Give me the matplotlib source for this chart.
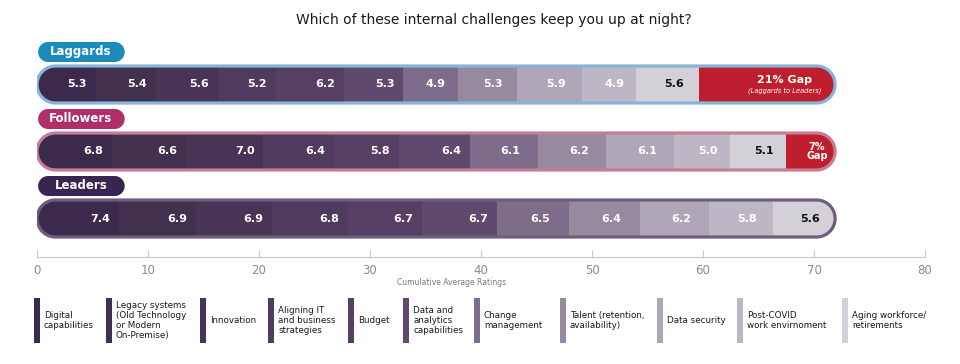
import numpy as np
import matplotlib
matplotlib.use("Agg")
import matplotlib.pyplot as plt
from matplotlib.path import Path
from matplotlib.patches import PathPatch, Rectangle

plt.rcParams['font.family'] = ['DejaVu Sans']

title = "Which of these internal challenges keep you up at night?"

groups = ["Laggards", "Followers", "Leaders"]
laggards = [5.3, 5.4, 5.6, 5.2, 6.2, 5.3, 4.9, 5.3, 5.9, 4.9, 5.6]
followers = [6.8, 6.6, 7.0, 6.4, 5.8, 6.4, 6.1, 6.2, 6.1, 5.0, 5.1]
leaders = [7.4, 6.9, 6.9, 6.8, 6.7, 6.7, 6.5, 6.4, 6.2, 5.8, 5.6]
gap_labels = ["21% Gap", "7%\nGap", None]
gap_notes = ["(Laggards to Leaders)", None, None]

challenges = ["Digital\ncapabilities",
              "Legacy systems\n(Old Technology\nor Modern\nOn-Premise)",
              "Innovation",
              "Aligning IT\nand business\nstrategies",
              "Budget",
              "Data and\nanalytics\ncapabilities",
              "Change\nmanagement",
              "Talent (retention,\navailability)",
              "Data security",
              "Post-COVID\nwork envirnoment",
              "Aging workforce/\nretirements"]

xticks = [0, 10, 20, 30, 40, 50, 60, 70, 80]
xlabel = "Cumulative Average Ratings"

# styling
seg_colors = ["#3c2a4d", "#42304f", "#483555", "#4f3b5d", "#563f63", "#5f4a6e",
              "#7d6d8b", "#978a9f", "#afa6b7", "#bdb7c5", "#d3d0d8"]
gap_color = "#be1e2d"
pill_colors = ["#1a8bbb", "#b02f68", "#3a2450"]
rim_colors = ["#86b5d8", "#c97d95", "#6f5d80"]

W, H = 960, 364
ax_left, ax_right = 37, 925
ax_top, ax_bottom = 35, 257
px_per_unit = (ax_right - ax_left) / 80.0

row_y = [84.5, 151.5, 218.5]
bar_h = 37
pill_off = 32.5
pill_h = 20
legend_x = [34, 106, 200, 268, 348, 403, 474, 560, 657, 737, 842]


def stadium(x0, x1, yc, h):
    ry = h / 2.0
    rx = ry / px_per_unit
    t = np.linspace(-np.pi / 2, np.pi / 2, 40)
    right = np.column_stack([x1 - rx + rx * np.cos(t), yc + ry * np.sin(t)])
    t2 = np.linspace(np.pi / 2, 3 * np.pi / 2, 40)
    left = np.column_stack([x0 + rx + rx * np.cos(t2), yc + ry * np.sin(t2)])
    verts = np.vstack([right, left, right[:1]])
    return Path(verts, closed=True)


fig = plt.figure(figsize=(W / 100, H / 100), dpi=100)
ax = fig.add_axes([ax_left / W, (H - ax_bottom) / H,
                   (ax_right - ax_left) / W, (ax_bottom - ax_top) / H])
ax.set_xlim(0, 80)
ax.set_ylim(ax_bottom, ax_top)

rows = [laggards, followers, leaders]
full = sum(leaders)

for i, vals in enumerate(rows):
    yc = row_y[i]
    vals = np.array(vals)
    lefts = np.concatenate([[0], np.cumsum(vals)[:-1]])
    total = vals.sum()

    shape = PathPatch(stadium(0, full, yc, bar_h), facecolor="none",
                      edgecolor=rim_colors[i], lw=2.3, zorder=4)
    ax.add_patch(shape)

    bars = ax.barh(yc, vals, left=lefts, height=bar_h, color=seg_colors,
                   edgecolor="none", zorder=2)
    for b in bars:
        b.set_clip_path(shape)

    if full - total > 0.05:
        gb = ax.barh(yc, full - total, left=total, height=bar_h,
                     color=gap_color, edgecolor="none", zorder=2)
        gb[0].set_clip_path(shape)
        gx = (total + full) / 2 + 0.13 * (full - total)
        if gap_notes[i]:
            ax.text(gx, yc - 4, gap_labels[i], color="white", fontsize=8,
                    fontweight="bold", ha="center", va="center", zorder=5)
            ax.text(gx, yc + 6, gap_notes[i], color="white", fontsize=4.8,
                    fontstyle="italic", ha="center", va="center", zorder=5)
        else:
            ax.text(gx, yc, gap_labels[i], color="white", fontsize=7,
                    fontweight="bold", ha="center", va="center",
                    linespacing=0.95, zorder=5)

    for j, (l, v) in enumerate(zip(lefts, vals)):
        col = "#111111" if j == len(vals) - 1 else "white"
        if j < 6:
            ax.text(l + v - 0.8, yc, f"{v:.1f}", color=col, fontsize=8,
                    fontweight="bold", ha="right", va="center", zorder=5)
        else:
            ax.text(l + 0.6 * v, yc, f"{v:.1f}", color=col, fontsize=8,
                    fontweight="bold", ha="center", va="center", zorder=5)

    # group pill
    py = yc - pill_off
    pill = PathPatch(stadium(0.1, 7.9, py, pill_h), facecolor=pill_colors[i],
                     edgecolor="none", zorder=4)
    ax.add_patch(pill)
    ax.text(3.95, py, groups[i], color="white", fontsize=8.5,
            fontweight="bold", ha="center", va="center", zorder=5)

for s in ["top", "right", "left"]:
    ax.spines[s].set_visible(False)
ax.spines["bottom"].set_color("#c8c8c8")
ax.set_yticks([])
ax.set_xticks(xticks)
ax.tick_params(axis="x", direction="in", length=5, color="#c8c8c8",
               labelsize=8.5, labelcolor="#8c8c8c", pad=5)
ax.set_xlabel(xlabel, fontsize=5.5, color="#777777", labelpad=2)
ax.xaxis.set_label_coords(0.467, -0.095)

# title and legend in pixel space
lax = fig.add_axes([0, 0, 1, 1], zorder=-1)
lax.set_xlim(0, W)
lax.set_ylim(H, 0)
lax.axis("off")
lax.text(494, 20, title, fontsize=10, color="#1a1a1a", ha="center",
         va="center")
for k, name in enumerate(challenges):
    x = legend_x[k]
    lax.add_patch(Rectangle((x, 298), 6, 45, facecolor=seg_colors[k],
                            edgecolor="none"))
    lax.text(x + 10, 320.5, name, fontsize=6.3, color="#1a1a1a",
             ha="left", va="center", linespacing=1.15)

fig.savefig("out.png", dpi=100)
